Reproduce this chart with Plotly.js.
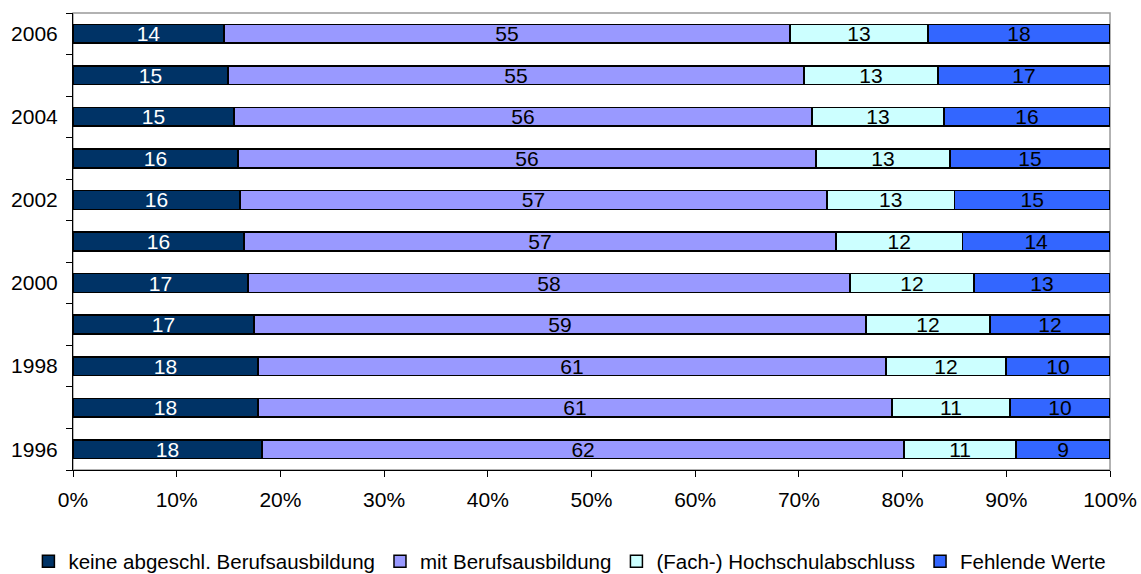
<!DOCTYPE html>
<html>
<head>
<meta charset="utf-8">
<script src="https://cdn.plot.ly/plotly-3.0.1.min.js"></script>
<style>html,body{margin:0;padding:0;background:#fff;}#chart{width:1141px;height:574px;}</style>
</head>
<body>
<div id="chart"></div>
<script>
var years = [1996, 1997, 1998, 1999, 2000, 2001, 2002, 2003, 2004, 2005, 2006];
var yearLabels = ['1996', '1998', '2000', '2002', '2004', '2006'];
var labeledYears = [1996, 1998, 2000, 2002, 2004, 2006];
var percentTicks = [0, 10, 20, 30, 40, 50, 60, 70, 80, 90, 100];
var percentTickLabels = ['0%', '10%', '20%', '30%', '40%', '50%', '60%', '70%', '80%', '90%', '100%'];

var seriesNames = ['keine abgeschl. Berufsausbildung', 'mit Berufsausbildung', '(Fach-) Hochschulabschluss', 'Fehlende Werte'];

var keineValues = [18.23, 17.84, 17.84, 17.45, 16.88, 16.49, 16.1, 15.91, 15.53, 14.95, 14.56];
var mitValues = [61.91, 61.14, 60.56, 59.02, 58.05, 57.09, 56.6, 55.74, 55.73, 55.54, 54.58];
var fachValues = [10.8, 11.38, 11.57, 11.96, 11.96, 12.19, 12.3, 12.92, 12.73, 12.92, 13.31];
var fehlendValues = [9.06, 9.64, 10.03, 11.57, 13.11, 14.23, 15.0, 15.43, 16.0, 16.59, 17.55];

var keineLabels = ['18', '18', '18', '17', '17', '16', '16', '16', '15', '15', '14'];
var mitLabels = ['62', '61', '61', '59', '58', '57', '57', '56', '56', '55', '55'];
var fachLabels = ['11', '11', '12', '12', '12', '12', '13', '13', '13', '13', '13'];
var fehlendLabels = ['9', '10', '10', '12', '13', '14', '15', '15', '16', '17', '18'];

var colors = ['#003366', '#9999FF', '#CCFFFF', '#3366FF'];
var textColors = ['#FFFFFF', '#000000', '#000000', '#000000'];
var FONT = 'Arial, "Liberation Sans", sans-serif';

var allValues = [keineValues, mitValues, fachValues, fehlendValues];
var allLabels = [keineLabels, mitLabels, fachLabels, fehlendLabels];

var traces = allValues.map(function (vals, i) {
  return {
    type: 'bar',
    orientation: 'h',
    name: seriesNames[i],
    y: years,
    x: vals,
    width: 0.45,
    text: allLabels[i],
    textposition: 'inside',
    insidetextanchor: 'middle',
    constraintext: 'none',
    textangle: 0,
    cliponaxis: false,
    textfont: {family: FONT, size: 21, color: textColors[i]},
    marker: {color: colors[i], line: {color: '#000000', width: 1.5}},
    hoverinfo: 'name+x'
  };
});

var boundaries = years.map(function (y) { return y - 0.5; });
boundaries.push(years[years.length - 1] + 0.5);

var layout = {
  width: 1141,
  height: 574,
  barmode: 'stack',
  paper_bgcolor: '#FFFFFF',
  plot_bgcolor: '#FFFFFF',
  margin: {l: 73, r: 31, t: 13, b: 104, autoexpand: false},
  font: {family: FONT, size: 21, color: '#000000'},
  showlegend: true,
  legend: {
    orientation: 'h',
    x: -0.043, xanchor: 'left',
    y: -0.2, yanchor: 'middle',
    font: {family: FONT, size: 20.5, color: '#000000'},
    traceorder: 'normal',
    itemwidth: 30
  },
  xaxis: {
    range: [0, 100],
    tickvals: percentTicks,
    ticktext: percentTickLabels,
    ticks: 'outside',
    ticklen: 6,
    tickcolor: '#000000',
    tickwidth: 1,
    ticklabelstandoff: 5,
    showline: true,
    linecolor: '#000000',
    linewidth: 1,
    showgrid: false,
    zeroline: false,
    tickfont: {family: FONT, size: 21, color: '#000000'}
  },
  yaxis: {
    range: [years[0] - 0.5, years[years.length - 1] + 0.5],
    tickvals: labeledYears,
    ticktext: yearLabels,
    ticks: '',
    ticklabelstandoff: 10,
    showline: true,
    linecolor: '#000000',
    linewidth: 1,
    showgrid: false,
    zeroline: false,
    tickfont: {family: FONT, size: 21, color: '#000000'},
    minor: {
      tickvals: boundaries,
      ticks: 'outside',
      ticklen: 6,
      tickcolor: '#000000',
      tickwidth: 1,
      showgrid: false
    }
  },
  shapes: [{
    type: 'rect', xref: 'paper', yref: 'paper',
    x0: 0, x1: 1, y0: 0, y1: 1,
    line: {color: '#999999', width: 1.5},
    layer: 'below'
  }]
};

Plotly.newPlot('chart', traces, layout, {displayModeBar: false, staticPlot: true});
</script>
</body>
</html>
